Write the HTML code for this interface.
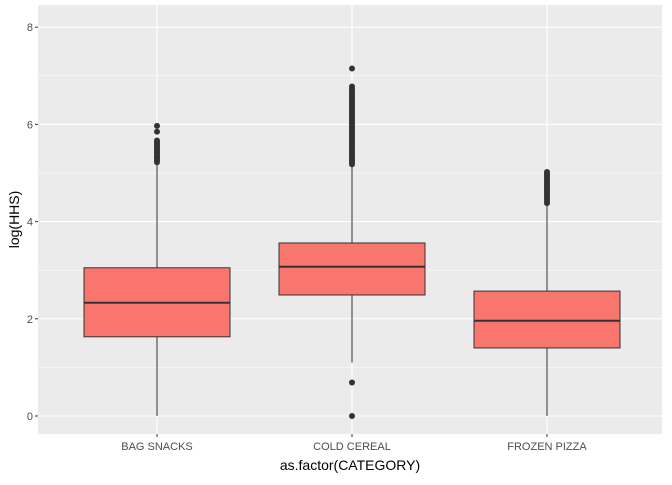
<!DOCTYPE html>
<html><head><meta charset="utf-8"><style>
body{margin:0;background:#fff;font-family:"Liberation Sans",sans-serif}
</style></head><body>
<svg id="chart" width="672" height="480" xmlns="http://www.w3.org/2000/svg" font-family="Liberation Sans, sans-serif"></svg>
<script>
const categories=["BAG SNACKS","COLD CEREAL","FROZEN PIZZA"];
const q1=[1.63,2.49,1.40];
const medians=[2.33,3.07,1.96];
const q3=[3.05,3.56,2.57];
const whiskerLow=[0,1.10,0];
const whiskerHigh=[5.20,5.15,4.35];
const outliers0=[5.22,5.26,5.3,5.33,5.36,5.4,5.43,5.46,5.5,5.53,5.56,5.6,5.63,5.67,5.85,5.97];
const outliers1=[0,0.69,5.18,5.22,5.26,5.3,5.34,5.38,5.42,5.46,5.5,5.54,5.58,5.62,5.66,5.7,5.74,5.78,5.82,5.86,5.9,5.94,5.98,6.02,6.06,6.1,6.14,6.18,6.22,6.26,6.3,6.34,6.38,6.42,6.46,6.5,6.54,6.58,6.62,6.66,6.7,6.74,6.78,7.15];
const outliers2=[4.38,4.42,4.46,4.5,4.54,4.58,4.62,4.66,4.7,4.74,4.78,4.82,4.86,4.9,4.94,4.98,5.02];
const outliers=[outliers0,outliers1,outliers2];
const yTicks=[0,2,4,6,8];
const NS="http://www.w3.org/2000/svg";
const svg=document.getElementById('chart');
const L=38,R=662,T=5,B=434;
const y=v=>416-v*48.6;
const x=i=>157+i*195;
const bw=146;
function mk(t,a){const e=document.createElementNS(NS,t);for(const k in a)e.setAttribute(k,a[k]);svg.appendChild(e);return e;}
const bg=mk('rect',{x:L,y:T,width:R-L,height:B-T,fill:'#ebebeb'});


for(let v=1;v<8;v+=2){const g=mk('line',{x1:L,x2:R,y1:y(v),y2:y(v),stroke:'#fff','stroke-width':0.5});

}
yTicks.forEach(v=>{const g=mk('line',{x1:L,x2:R,y1:y(v),y2:y(v),stroke:'#fff','stroke-width':1.1});


mk('line',{x1:L-3,x2:L,y1:y(v),y2:y(v),stroke:'#333'});
const t=mk('text',{x:L-5,y:y(v)+4,'text-anchor':'end','font-size':11,fill:'#4d4d4d'});t.textContent=v;

});
categories.forEach((c,i)=>{
const g=mk('line',{x1:x(i),x2:x(i),y1:T,y2:B,stroke:'#fff','stroke-width':1.1});


const w=mk('line',{x1:x(i),x2:x(i),y1:y(whiskerLow[i]),y2:y(whiskerHigh[i]),stroke:'#333','stroke-width':1});


const b=mk('rect',{x:x(i)-bw/2,y:y(q3[i]),width:bw,height:y(q1[i])-y(q3[i]),fill:'#f8766d',stroke:'#333','stroke-width':1});


const m=mk('line',{x1:x(i)-bw/2,x2:x(i)+bw/2,y1:y(medians[i]),y2:y(medians[i]),stroke:'#333','stroke-width':2});


outliers[i].forEach(v=>{const p=mk('circle',{cx:x(i),cy:y(v),r:3,fill:'#333'});

});
mk('line',{x1:x(i),x2:x(i),y1:B,y2:B+3,stroke:'#333'});
const t=mk('text',{x:x(i),y:B+16,'text-anchor':'middle','font-size':11,fill:'#4d4d4d'});t.textContent=c;


});
const xt=mk('text',{x:(L+R)/2,y:470,'text-anchor':'middle','font-size':14,fill:'#000'});xt.textContent='as.factor(CATEGORY)';


const yt=mk('text',{x:0,y:0,'text-anchor':'middle','font-size':14,fill:'#000',transform:`translate(19,${(T+B)/2}) rotate(-90)`});yt.textContent='log(HHS)';


</script>
</body></html>
